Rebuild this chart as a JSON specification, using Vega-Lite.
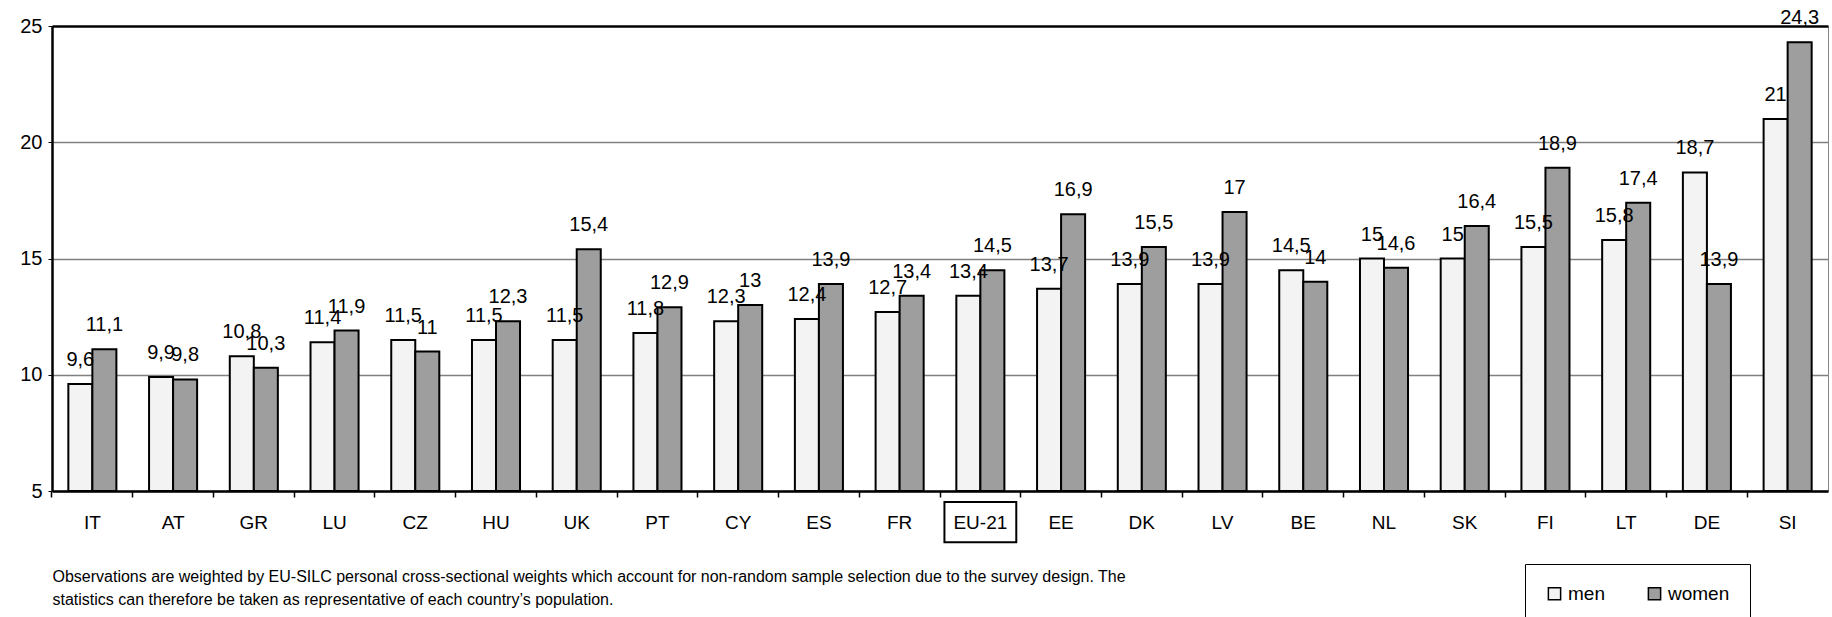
{
  "$schema": "https://vega.github.io/schema/vega-lite/v6.json",
  "width": 1776,
  "height": 465,
  "autosize": {"type": "none"},
  "padding": {"left": 52, "top": 26, "right": 4, "bottom": 126},
  "background": "white",
  "config": {
    "font": "Liberation Sans",
    "view": {"stroke": "#888888", "strokeWidth": 1},
    "locale": {"number": {"decimal": ",", "thousands": ".", "grouping": [3], "currency": ["", " €"]}}
  },
  "data": {
    "values": [
      {"country": "IT", "sex": "men", "value": 9.6},
      {"country": "IT", "sex": "women", "value": 11.1},
      {"country": "AT", "sex": "men", "value": 9.9},
      {"country": "AT", "sex": "women", "value": 9.8},
      {"country": "GR", "sex": "men", "value": 10.8},
      {"country": "GR", "sex": "women", "value": 10.3},
      {"country": "LU", "sex": "men", "value": 11.4},
      {"country": "LU", "sex": "women", "value": 11.9},
      {"country": "CZ", "sex": "men", "value": 11.5},
      {"country": "CZ", "sex": "women", "value": 11},
      {"country": "HU", "sex": "men", "value": 11.5},
      {"country": "HU", "sex": "women", "value": 12.3},
      {"country": "UK", "sex": "men", "value": 11.5},
      {"country": "UK", "sex": "women", "value": 15.4},
      {"country": "PT", "sex": "men", "value": 11.8},
      {"country": "PT", "sex": "women", "value": 12.9},
      {"country": "CY", "sex": "men", "value": 12.3},
      {"country": "CY", "sex": "women", "value": 13},
      {"country": "ES", "sex": "men", "value": 12.4},
      {"country": "ES", "sex": "women", "value": 13.9},
      {"country": "FR", "sex": "men", "value": 12.7},
      {"country": "FR", "sex": "women", "value": 13.4},
      {"country": "EU-21", "sex": "men", "value": 13.4},
      {"country": "EU-21", "sex": "women", "value": 14.5},
      {"country": "EE", "sex": "men", "value": 13.7},
      {"country": "EE", "sex": "women", "value": 16.9},
      {"country": "DK", "sex": "men", "value": 13.9},
      {"country": "DK", "sex": "women", "value": 15.5},
      {"country": "LV", "sex": "men", "value": 13.9},
      {"country": "LV", "sex": "women", "value": 17},
      {"country": "BE", "sex": "men", "value": 14.5},
      {"country": "BE", "sex": "women", "value": 14},
      {"country": "NL", "sex": "men", "value": 15},
      {"country": "NL", "sex": "women", "value": 14.6},
      {"country": "SK", "sex": "men", "value": 15},
      {"country": "SK", "sex": "women", "value": 16.4},
      {"country": "FI", "sex": "men", "value": 15.5},
      {"country": "FI", "sex": "women", "value": 18.9},
      {"country": "LT", "sex": "men", "value": 15.8},
      {"country": "LT", "sex": "women", "value": 17.4},
      {"country": "DE", "sex": "men", "value": 18.7},
      {"country": "DE", "sex": "women", "value": 13.9},
      {"country": "SI", "sex": "men", "value": 21},
      {"country": "SI", "sex": "women", "value": 24.3}
    ]
  },
  "encoding": {
    "x": {
      "field": "country",
      "type": "nominal",
      "sort": null,
      "scale": {"paddingInner": 0, "paddingOuter": 0},
      "axis": {
        "title": [
          "Observations are weighted by EU-SILC personal cross-sectional weights which account for non-random sample selection due to the survey design. The",
          "statistics can therefore be taken as representative of each country’s population."
        ],
        "titleAnchor": "start",
        "titleAlign": "left",
        "titleBaseline": "top",
        "titleFontSize": 16,
        "titleFontWeight": "normal",
        "titleColor": "black",
        "titleLineHeight": 23,
        "titlePadding": 36,
        "labelAngle": 0,
        "labelFontSize": 19,
        "labelColor": "black",
        "labelPadding": 16,
        "domainColor": "black",
        "domainWidth": 2.5,
        "tickColor": "black",
        "tickWidth": 1.5,
        "tickSize": 6,
        "bandPosition": 0
      }
    }
  },
  "layer": [
    {
      "mark": {"type": "bar", "stroke": "black", "strokeWidth": 2},
      "encoding": {
        "xOffset": {"field": "sex", "type": "nominal", "sort": ["men", "women"], "scale": {"paddingInner": 0, "paddingOuter": 0.68}},
        "y": {
          "field": "value",
          "type": "quantitative",
          "scale": {"domain": [5, 25], "nice": false, "zero": false},
          "axis": {
            "title": null,
            "values": [5, 10, 15, 20, 25],
            "labelFontSize": 20,
            "labelColor": "black",
            "labelPadding": 6,
            "domainColor": "black",
            "domainWidth": 2.5,
            "tickColor": "black",
            "tickSize": 4,
            "gridColor": {"condition": {"test": "datum.value === 25", "value": "black"}, "value": "#808080"},
            "gridWidth": {"condition": {"test": "datum.value === 25", "value": 2.5}, "value": 1.5}
          }
        },
        "y2": {"datum": 5},
        "color": {
          "field": "sex",
          "type": "nominal",
          "sort": ["men", "women"],
          "scale": {"domain": ["men", "women"], "range": ["#f3f3f3", "#9e9e9e"]},
          "legend": {
            "title": null,
            "orient": "none",
            "legendX": 1473,
            "legendY": 538,
            "direction": "horizontal",
            "strokeColor": "black",
            "padding": 20,
            "symbolType": "square",
            "symbolSize": 150,
            "symbolStrokeColor": "black",
            "symbolStrokeWidth": 1.5,
            "labelFontSize": 19,
            "labelColor": "black",
            "columnPadding": 40
          }
        }
      }
    },
    {
      "mark": {"type": "text", "baseline": "alphabetic", "dy": -18, "fontSize": 20, "color": "black"},
      "encoding": {
        "xOffset": {"field": "sex", "type": "nominal", "sort": ["men", "women"], "scale": {"paddingInner": 0, "paddingOuter": 0.68}},
        "y": {"field": "value", "type": "quantitative"},
        "text": {"field": "value", "type": "quantitative", "format": ".1~f"}
      }
    },
    {
      "transform": [{"filter": "datum.country === 'EU-21' && datum.sex === 'men'"}],
      "mark": {"type": "bar", "width": {"band": 0.89}, "fillOpacity": 0, "stroke": "black", "strokeWidth": 2, "clip": false},
      "encoding": {
        "y": {"datum": 4.53},
        "y2": {"datum": 2.8}
      }
    }
  ]
}
